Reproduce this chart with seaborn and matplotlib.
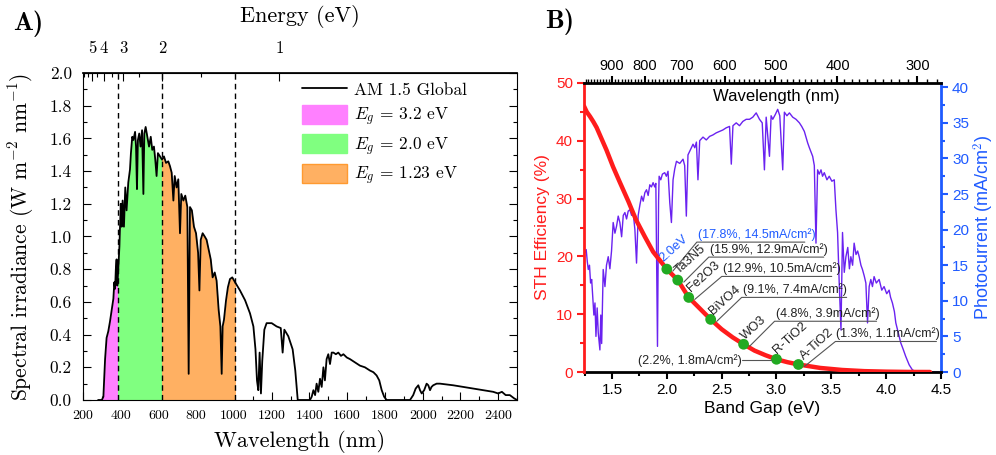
import numpy as np
import matplotlib
matplotlib.use('Agg')
import matplotlib.pyplot as plt
import seaborn as sns
from matplotlib.patches import Patch, Rectangle
from matplotlib.lines import Line2D
from matplotlib.transforms import IdentityTransform
from matplotlib.ticker import MultipleLocator, FixedLocator, FixedFormatter, NullFormatter

# ---------------- Panel A data (AM 1.5 Global spectrum) ----------------
wavelength_nm = [280, 300, 308, 317, 325, 334, 343, 352, 361, 366, 370, 374, 378, 382, 386, 393,
                 400, 405, 410, 417, 424, 431, 440, 449, 454, 461, 467, 476, 481, 486, 491, 498,
                 505, 513, 520, 525, 532, 541, 550, 559, 567, 576, 583, 590, 597, 608, 619, 629,
                 640, 652, 661, 670, 679, 686, 696, 705, 714, 721, 732, 742, 753, 760, 767, 777,
                 788, 799, 810, 817, 824, 834, 845, 855, 866, 877, 887, 898, 908, 919, 928, 935,
                 940, 947, 958, 968, 979, 991, 1006, 1032, 1059, 1085, 1103, 1114, 1122, 1129,
                 1136, 1143, 1150, 1161, 1173, 1200, 1226, 1248, 1258, 1267, 1288, 1311, 1325,
                 1338, 1403, 1412, 1421, 1430, 1438, 1447, 1456, 1465, 1474, 1482, 1491, 1500,
                 1509, 1518, 1527, 1540, 1553, 1567, 1580, 1598, 1615, 1641, 1668, 1694, 1721,
                 1739, 1756, 1770, 1783, 1796, 1809, 1933, 1950, 1963, 1977, 1986, 1995, 2008,
                 2021, 2030, 2039, 2047, 2056, 2074, 2092, 2127, 2162, 2215, 2268, 2321, 2374,
                 2400, 2420, 2440, 2462, 2485, 2500]
irradiance = [0.0, 0.0, 0.02, 0.25, 0.38, 0.42, 0.48, 0.55, 0.62, 0.72, 0.68, 0.80, 0.86, 0.70, 0.78, 0.94,
              1.20, 1.06, 1.22, 1.06, 1.30, 1.16, 1.33, 1.41, 1.51, 1.61, 1.59, 1.64, 1.55, 1.29, 1.59, 1.63,
              1.55, 1.65, 1.26, 1.63, 1.67, 1.61, 1.55, 1.61, 1.53, 1.55, 1.47, 1.37, 1.51, 1.49, 1.47, 1.49,
              1.45, 1.46, 1.43, 1.39, 1.22, 1.37, 1.30, 1.35, 1.02, 1.26, 1.22, 1.25, 1.18, 0.16, 1.18, 1.16,
              1.06, 1.02, 0.90, 0.67, 0.98, 1.02, 1.00, 0.98, 0.92, 0.86, 0.75, 0.78, 0.73, 0.55, 0.45, 0.16,
              0.45, 0.49, 0.61, 0.69, 0.74, 0.75, 0.72, 0.67, 0.61, 0.53, 0.45, 0.31, 0.12, 0.06,
              0.29, 0.04, 0.24, 0.43, 0.47, 0.47, 0.45, 0.44, 0.29, 0.43, 0.39, 0.31, 0.18,
              0.0, 0.0, 0.02, 0.06, 0.03, 0.10, 0.05, 0.13, 0.08, 0.20, 0.12, 0.25, 0.28,
              0.22, 0.29, 0.29, 0.28, 0.29, 0.27, 0.28, 0.26, 0.25, 0.23, 0.21, 0.20, 0.18,
              0.17, 0.15, 0.12, 0.06, 0.02, 0.0, 0.0, 0.03, 0.07, 0.09, 0.06, 0.04, 0.06,
              0.10, 0.09, 0.06, 0.08, 0.09, 0.10, 0.10, 0.095, 0.09, 0.08, 0.07, 0.06, 0.05,
              0.04, 0.05, 0.03, 0.03, 0.01, 0.0]
gap_eV_A = [3.2, 2.0, 1.23]
gap_text_A = ['3.2', '2.0', '1.23']
fill_colors_A = ['#ff80ff', '#80ff80', '#ffb062']
fill_edges_A = ['#ff80ff', '#80ff80', '#ff9a30']
energy_ticks = [1, 2, 3, 4, 5]
energy_minor = [1.5, 2.5, 3.5, 4.5, 5.5, 6.0]

# ---------------- Panel B data ----------------
pc_gap = [1.254, 1.265, 1.275, 1.284, 1.295, 1.305, 1.315, 1.325, 1.335, 1.345, 1.354, 1.365, 1.375,
          1.390, 1.398, 1.406, 1.420, 1.436, 1.450, 1.466, 1.481, 1.496, 1.511, 1.527, 1.542, 1.557,
          1.572, 1.588, 1.603, 1.618, 1.633, 1.648, 1.663, 1.679, 1.694, 1.709, 1.724, 1.739, 1.755,
          1.770, 1.785, 1.800, 1.815, 1.830, 1.845, 1.860, 1.875, 1.890, 1.900, 1.915, 1.925, 1.930,
          1.945, 1.960, 1.981, 1.996, 2.011, 2.027, 2.042, 2.057, 2.072, 2.088, 2.118, 2.148, 2.163,
          2.178, 2.193, 2.209, 2.224, 2.239, 2.255, 2.270, 2.284, 2.300, 2.330, 2.360, 2.390, 2.420,
          2.451, 2.481, 2.511, 2.541, 2.572, 2.588, 2.603, 2.633, 2.663, 2.693, 2.724, 2.754, 2.784,
          2.815, 2.845, 2.870, 2.890, 2.906, 2.936, 2.951, 2.966, 2.990, 3.011, 3.030, 3.057, 3.072,
          3.095, 3.118, 3.148, 3.178, 3.209, 3.230, 3.254, 3.284, 3.300, 3.330, 3.345, 3.360, 3.375,
          3.390, 3.406, 3.420, 3.436, 3.460, 3.481, 3.505, 3.527, 3.542, 3.557, 3.572, 3.588, 3.602,
          3.618, 3.633, 3.650, 3.665, 3.678, 3.694, 3.708, 3.725, 3.740, 3.754, 3.770, 3.784, 3.800,
          3.815, 3.830, 3.845, 3.860, 3.875, 3.890, 3.910, 3.936, 3.960, 3.981, 4.005, 4.027, 4.040,
          4.057, 4.075, 4.088, 4.110, 4.133, 4.155, 4.178, 4.210, 4.239, 4.270, 4.300, 4.481]
pc_current = [16.8, 17.2, 15.5, 14.4, 15.0, 12.5, 13.0, 10.5, 8.0, 9.7, 5.0, 9.0, 5.5,
              3.1, 8.0, 4.0, 14.4, 12.0, 15.0, 16.2, 14.5, 17.0, 21.0, 19.5, 20.5, 21.9,
              21.0, 19.0, 22.0, 22.4, 21.5, 22.6, 22.8, 22.0, 22.3, 20.0, 15.3, 22.0, 23.5,
              24.7, 24.0, 25.2, 25.6, 24.8, 26.3, 26.0, 26.6, 26.0, 26.5, 3.6, 24.0, 27.5,
              27.0, 27.8, 28.0, 27.5, 28.2, 23.8, 21.0, 27.0, 28.5, 29.6, 29.3, 29.9, 29.0,
              21.9, 30.5, 31.0, 31.5, 32.0, 31.5, 32.3, 27.0, 32.5, 33.0, 32.6, 33.1, 33.3,
              33.6, 33.8, 34.0, 34.3, 34.5, 29.2, 34.6, 35.0, 34.6, 35.2, 35.5, 35.5, 35.8,
              36.4, 35.5, 35.0, 28.4, 35.8, 30.3, 36.0, 35.5, 36.2, 36.9, 36.0, 28.4, 36.5,
              36.0, 36.4, 35.8, 35.5, 35.0, 34.5, 33.8, 32.2, 31.5, 30.3, 29.0, 18.1, 28.4,
              27.8, 28.4, 27.5, 28.0, 27.0, 27.5, 26.8, 27.0, 22.8, 19.6, 12.5, 5.9, 19.6,
              14.0, 16.2, 17.5, 14.5, 16.2, 15.0, 18.1, 16.5, 17.0, 16.2, 15.0, 14.4, 13.5,
              12.5, 6.9, 12.0, 13.0, 12.0, 13.4, 12.5, 13.0, 11.5, 12.0, 11.0, 11.5, 10.5,
              9.7, 8.5, 6.9, 5.5, 4.1, 3.2, 2.2, 1.0, 0.3, 0.05, 0.0, 0.0]
sth_gap = [1.245, 1.27, 1.30, 1.33, 1.36, 1.39, 1.45, 1.51, 1.57, 1.65, 1.72, 1.80, 1.875, 2.0, 2.1,
           2.2, 2.3, 2.4, 2.5, 2.6, 2.7, 2.8, 2.9, 3.0, 3.1, 3.2, 3.4, 3.6, 3.8, 4.0, 4.2, 4.4]
sth_eff = [46.0, 45.0, 44.2, 43.3, 42.3, 41.0, 38.4, 35.5, 32.9, 29.5, 26.3, 23.4, 20.8, 17.8, 15.9,
           12.9, 11.0, 9.1, 7.4, 6.0, 4.8, 3.7, 2.9, 2.2, 1.7, 1.3, 0.7, 0.35, 0.15, 0.06, 0.01, 0.0]
mat_names = ['2.0eV', 'Ta3N5', 'Fe2O3', 'BiVO4', 'WO3', 'R-TiO2', 'A-TiO2']
mat_gap = [2.0, 2.1, 2.2, 2.4, 2.7, 3.0, 3.2]
mat_sth = [17.8, 15.9, 12.9, 9.1, 4.8, 2.2, 1.3]
mat_jph = [14.5, 12.9, 10.5, 7.4, 3.9, 1.8, 1.1]
top_wl_ticks = [300, 400, 500, 600, 700, 800, 900]

# ---------------- style ----------------
sns.set_theme(style='white')
plt.rcParams['font.family'] = ['Liberation Sans', 'DejaVu Sans']
plt.rcParams['mathtext.fontset'] = 'cm'
plt.rcParams['axes.edgecolor'] = 'black'
plt.rcParams['text.color'] = 'black'
plt.rcParams['axes.labelcolor'] = 'black'
plt.rcParams['xtick.color'] = 'black'
plt.rcParams['ytick.color'] = 'black'

W, H = 996, 455
fig = plt.figure(figsize=(W / 100, H / 100), dpi=100)


def rect(l, t, r, b):
    return [l / W, (H - b) / H, (r - l) / W, (b - t) / H]


SER = 'cmr10'

# ================= Panel A =================
axA = fig.add_axes(rect(83, 73, 517, 400))
axA.set_xlim(200, 2500)
axA.set_ylim(0, 2.0)
edges = [wavelength_nm[0]] + [1240.0 / g for g in gap_eV_A]
for i in range(3):
    poly = axA.fill_between(wavelength_nm, 0, irradiance, color=fill_colors_A[i], lw=0, zorder=1)
    poly.set_clip_path(Rectangle((edges[i], 0), edges[i + 1] - edges[i], 2.0,
                                 transform=axA.transData))
sns.lineplot(x=wavelength_nm, y=irradiance, ax=axA, color='black', lw=1.3, zorder=3)
for e in edges[1:]:
    axA.axvline(e, color='black', lw=1.0, ls=(0, (4, 3)), zorder=2)

axA.xaxis.set_major_locator(MultipleLocator(200))
axA.xaxis.set_minor_locator(MultipleLocator(100))
axA.yaxis.set_major_locator(MultipleLocator(0.2))
axA.yaxis.set_minor_locator(MultipleLocator(0.1))
axA.yaxis.set_major_formatter(matplotlib.ticker.FormatStrFormatter('%.1f'))
axA.tick_params(which='both', direction='in', top=False, right=True, bottom=True, left=True,
                color='black', width=0.8, labelfontfamily=SER)
axA.tick_params(which='major', length=6)
axA.tick_params(which='minor', length=3)
axA.tick_params(axis='x', labelsize=10, pad=7)
axA.tick_params(axis='y', labelsize=12.5, pad=8)
for sp in axA.spines.values():
    sp.set_linewidth(0.8)
    sp.set_color('black')
axA.set_xlabel('Wavelength (nm)', fontfamily=SER, fontsize=16, labelpad=6)
axA.set_ylabel(r'Spectral irradiance (W m$^{-2}$ nm$^{-1}$)', fontfamily=SER, fontsize=15.5, labelpad=10)

secA = axA.secondary_xaxis('top', functions=(lambda x: 1240.0 / np.maximum(x, 1e-9),
                                             lambda e: 1240.0 / np.maximum(e, 1e-9)))
secA.set_xticks(energy_ticks)
secA.set_xticks(energy_minor, minor=True)
secA.set_xticklabels([str(t) for t in energy_ticks])
secA.tick_params(which='both', direction='in', labelsize=12, labelfontfamily=SER, width=0.8, pad=12)
secA.tick_params(which='major', length=6)
secA.tick_params(which='minor', length=3)
secA.set_xlabel('Energy (eV)', fontfamily=SER, fontsize=16, labelpad=14)

handles = [Line2D([], [], color='black', lw=1.3)] + \
          [Patch(facecolor=fill_colors_A[i], edgecolor=fill_edges_A[i]) for i in range(3)]
labels = ['AM 1.5 Global'] + [r'$E_g$ = ' + t + ' eV' for t in gap_text_A]
axA.legend(handles, labels, loc='upper left', bbox_to_anchor=((302 - 83) / 434, (400 - 80) / 327),
           frameon=False, prop={'family': SER, 'size': 12.5}, handlelength=2.6, handleheight=1.3,
           handletextpad=0.4, labelspacing=0.35, borderpad=0, borderaxespad=0)

fig.text(13 / W, 1 - 24 / H, 'A)', fontfamily='cmb10', fontsize=19, va='center', ha='left')
fig.text(545 / W, 1 - 22 / H, 'B)', fontfamily='cmb10', fontsize=19, va='center', ha='left')

# ================= Panel B =================
RED = '#ff1c1c'
BLUE = '#1f5bff'
PURPLE = '#6a22f0'
GREEN = '#22aa22'

ax1 = fig.add_axes(rect(584, 83, 941, 372))
ax2 = ax1.twinx()
ax3 = ax1.twiny()

# photocurrent (right axis) on ax1
ax1.set_xlim(1.245, 4.5)
ax1.set_ylim(0, 40.6)
sns.lineplot(x=pc_gap, y=pc_current, ax=ax1, color=PURPLE, lw=1.0)
ax1.yaxis.tick_right()
ax1.yaxis.set_label_position('right')
ax1.xaxis.set_major_locator(MultipleLocator(0.5))
ax1.xaxis.set_minor_locator(MultipleLocator(0.25))
ax1.yaxis.set_major_locator(MultipleLocator(5))
ax1.yaxis.set_minor_locator(MultipleLocator(2.5))
ax1.tick_params(which='both', direction='out', width=1.5)
ax1.tick_params(which='major', length=5)
ax1.tick_params(which='minor', length=3)
ax1.tick_params(axis='x', labelsize=11, colors='black', pad=3, top=False, labeltop=False)
ax1.tick_params(axis='y', which='both', labelsize=11, colors=BLUE, pad=3, left=False, right=True,
                labelleft=False, labelright=True)
ax1.set_xlabel('Band Gap (eV)', fontsize=12.5, labelpad=3)
ax1.set_ylabel('Photocurrent (mA/cm$^2$)', fontsize=13, color=BLUE, labelpad=2)
for k in ['left', 'top']:
    ax1.spines[k].set_visible(False)
ax1.spines['right'].set_color(BLUE)
ax1.spines['bottom'].set_color('black')
for k in ['right', 'bottom']:
    ax1.spines[k].set_linewidth(2)

# STH efficiency (left axis) on ax2
ax2.set_ylim(0, 50)
sns.lineplot(x=sth_gap, y=sth_eff, ax=ax2, color=RED, lw=3.2, zorder=3)
sns.scatterplot(x=mat_gap, y=mat_sth, ax=ax2, color=GREEN, s=60, edgecolor='none', zorder=4)
ax2.yaxis.tick_left()
ax2.yaxis.set_label_position('left')
ax2.yaxis.set_major_locator(MultipleLocator(10))
ax2.yaxis.set_minor_locator(MultipleLocator(5))
ax2.tick_params(axis='y', which='both', direction='out', width=1.5, colors=RED, labelsize=11, pad=3,
                left=True, right=False, labelleft=True, labelright=False)
ax2.tick_params(which='major', length=5)
ax2.tick_params(which='minor', length=3)
ax2.set_ylabel('STH Efficiency (%)', fontsize=12.5, color=RED, labelpad=4)
for k in ['right', 'top', 'bottom']:
    ax2.spines[k].set_visible(False)
ax2.spines['left'].set_color(RED)
ax2.spines['left'].set_linewidth(2)

# wavelength (top, log) on ax3
ax3.set_xscale('log')
ax3.set_xlim(1240 / 1.245, 1240 / 4.5)
ax3.xaxis.set_major_locator(FixedLocator(top_wl_ticks))
ax3.xaxis.set_major_formatter(FixedFormatter([str(t) for t in top_wl_ticks]))
ax3.xaxis.set_minor_locator(FixedLocator(list(range(280, 1001, 10))))
ax3.xaxis.set_minor_formatter(NullFormatter())
ax3.tick_params(axis='x', which='both', direction='out', width=1.0, colors='black', labelsize=10.5, pad=2)
ax3.tick_params(axis='x', which='major', length=5, width=1.5)
ax3.tick_params(axis='x', which='minor', length=3)
ax3.tick_params(axis='y', which='both', left=False, right=False, labelleft=False, labelright=False)
for k in ['left', 'right', 'bottom']:
    ax3.spines[k].set_visible(False)
ax3.spines['top'].set_linewidth(2)
ax3.spines['top'].set_color('black')
ax1.text(0.54, 0.953, 'Wavelength (nm)', transform=ax1.transAxes, ha='center', va='center',
         fontsize=12, color='black')

# annotations (pixel offsets relative to each marker)
T = ax2.transData
ID = IdentityTransform()
LEAD = '#555555'
elbows = [(30, 27, 108), (31, 23, 115), (33, 21, 110), (31, 22, 105), (31, 23, 102), None, (37, 23, 101)]
name_off = [(-3, 7), (1, 6), (2, 5), (2, 4), (1, 4), (1, 5), (6, 4)]
for i, nm in enumerate(mat_names):
    px, py = T.transform((mat_gap[i], mat_sth[i]))
    col_name = BLUE if i == 0 else '#222222'
    col_val = BLUE if i == 0 else '#222222'
    val = '(%.1f%%, %.1fmA/cm²)' % (mat_sth[i], mat_jph[i])
    fig.text(px + name_off[i][0], py + name_off[i][1], nm, transform=ID, rotation=42,
             rotation_mode='anchor', ha='left', va='baseline', fontsize=9.3, color=col_name,
             zorder=10)
    if elbows[i] is None:
        fig.add_artist(Line2D([px - 34, px - 5], [py - 1, py - 1], transform=ID, color=LEAD, lw=0.8))
        fig.text(px - 35, py - 1, val, transform=ID, ha='right', va='center', fontsize=9,
                 color=col_val)
    else:
        dx, dy, L = elbows[i]
        fig.add_artist(Line2D([px + 6, px + dx, px + dx + L], [py - 2, py + dy, py + dy],
                              transform=ID, color=LEAD, lw=0.8))
        fig.text(px + dx + 1, py + dy + 1, val, transform=ID, ha='left', va='bottom', fontsize=9,
                 color=col_val)

fig.savefig('out.png', dpi=100)
